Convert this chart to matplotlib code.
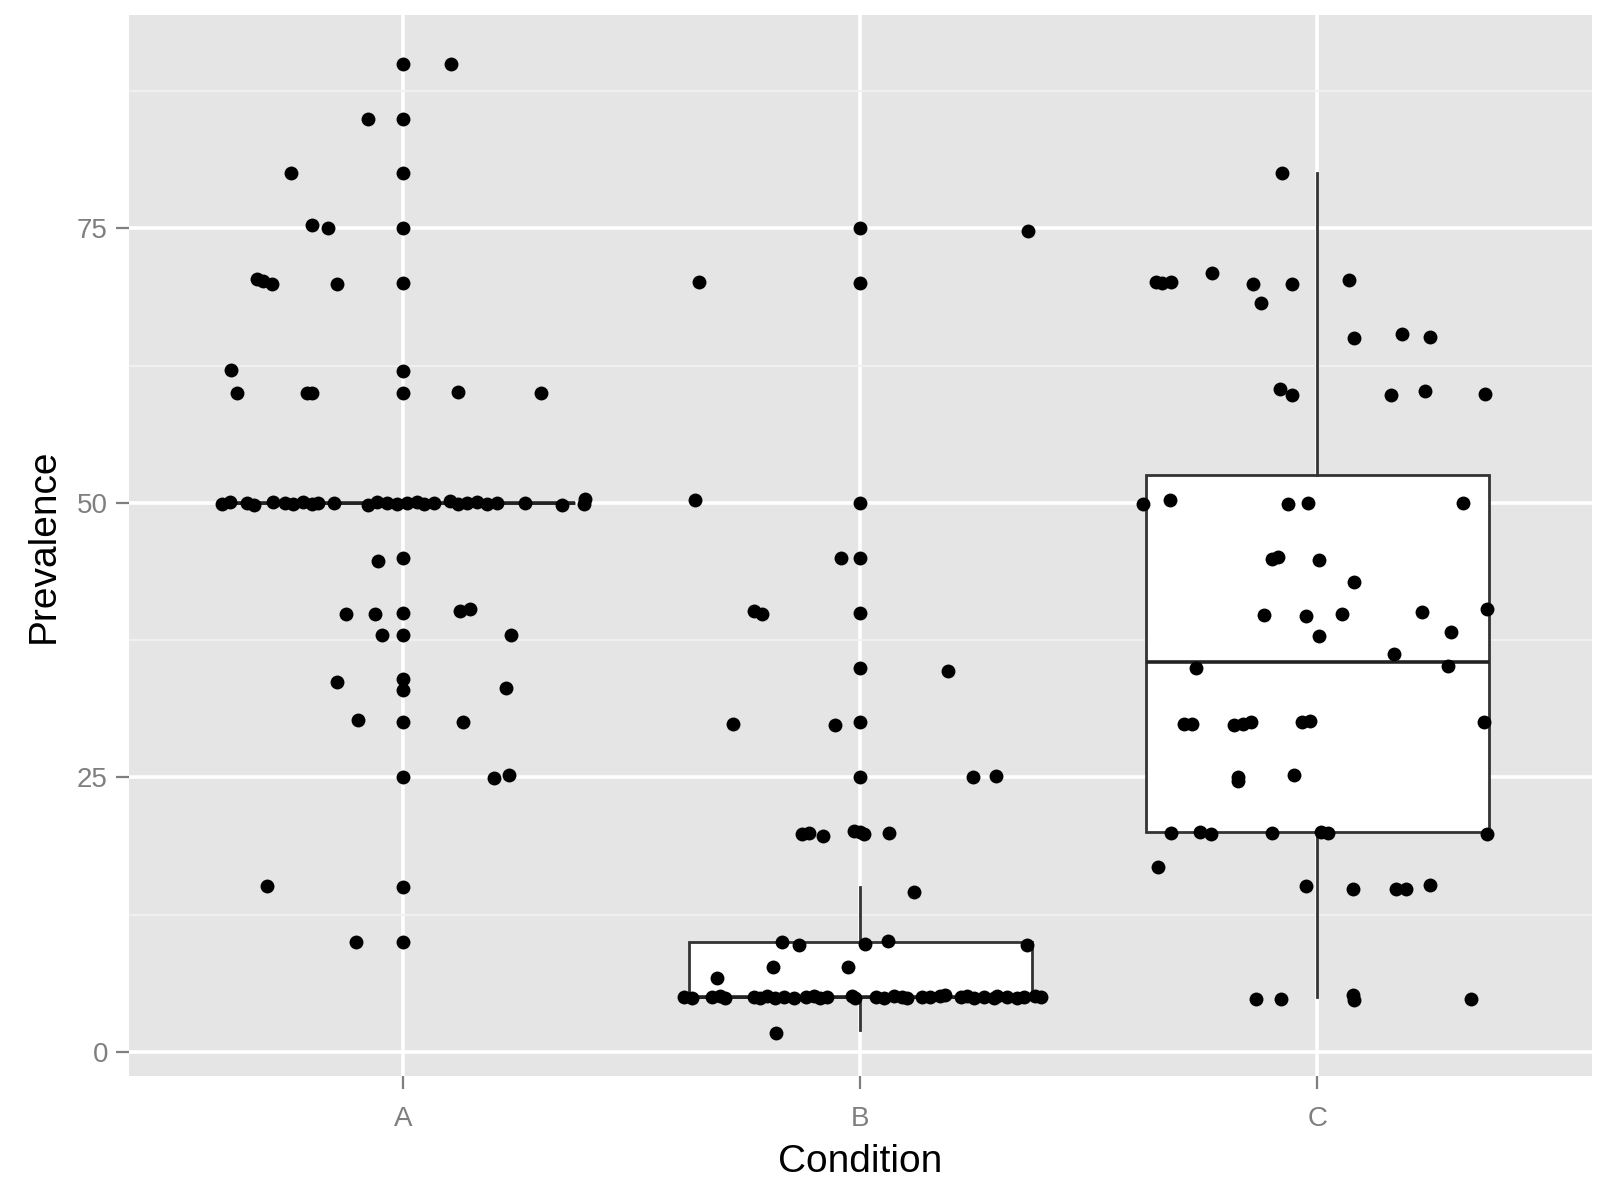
import matplotlib.pyplot as plt
import numpy as np

categories = ["A", "B", "C"]

# box statistics
box_q1 = [50, 5, 20]
box_med = [50, 5, 35.5]
box_q3 = [50, 10, 52.5]
whisker_lo = [50, 2, 5]
whisker_hi = [50, 15, 80]

# outliers drawn by the boxplot at the category centre
outliers_a = [90, 85, 80, 75, 70, 62, 60, 45, 40, 38, 34, 33, 30, 25, 15, 10]
outliers_b = [75, 70, 50, 45, 40, 35, 30, 25, 20]
outliers_c = []

# jittered observations: horizontal offset from the centre, value
a_offset = [0.104, -0.078, -0.246, -0.201, -0.165,
            -0.321, -0.307, -0.288, -0.145, -0.378,
            -0.365, -0.212, -0.201, 0.119, 0.302,
            -0.398, -0.379, -0.343, -0.328, -0.285, -0.259, -0.241, -0.219,
            -0.201, -0.186, -0.153, -0.077, -0.058, -0.036, -0.014, 0.007,
            0.029, 0.044, 0.066, 0.102, 0.120, 0.139, 0.161, 0.183, 0.205,
            0.266, 0.347, 0.394, 0.398,
            -0.055, -0.125, -0.063, 0.124, 0.146, -0.047, 0.236,
            -0.146, 0.225, -0.100, 0.130, 0.197, 0.232, -0.299, -0.104]
a_value = [90.0, 85.0, 80.0, 75.3, 75.0,
           70.4, 70.2, 69.9, 69.9, 62.1,
           60.0, 60.0, 60.0, 60.1, 60.0,
           49.9, 50.1, 50.0, 49.8, 50.1, 50.0, 49.9, 50.1,
           49.9, 50.0, 50.0, 49.8, 50.1, 50.0, 49.9, 50.0,
           50.1, 49.9, 50.0, 50.2, 49.9, 50.0, 50.1, 49.9, 50.0,
           50.0, 49.8, 49.9, 50.4,
           44.7, 39.9, 39.9, 40.2, 40.3, 38.0, 38.0,
           33.7, 33.1, 30.2, 30.0, 24.9, 25.2, 15.1, 10.0]

b_offset = [0.366, -0.354, -0.363, -0.042, -0.234, -0.215, 0.192,
            -0.279, -0.055, 0.247, 0.296,
            -0.128, -0.112, -0.083, -0.015, 0.007, 0.062, 0.117,
            -0.171, -0.135, 0.011, 0.061, 0.365, -0.192, -0.028, -0.314, -0.184,
            -0.387, -0.369, -0.325, -0.307, -0.296, -0.234, -0.219, -0.204,
            -0.186, -0.168, -0.146, -0.120, -0.102, -0.088, -0.073, -0.018,
            -0.011, 0.033, 0.051, 0.073, 0.091, 0.102, 0.135, 0.153, 0.175,
            0.186, 0.219, 0.234, 0.248, 0.270, 0.292, 0.299, 0.321, 0.343,
            0.358, 0.383, 0.394]
b_value = [74.8, 70.1, 50.3, 45.0, 40.2, 39.9, 34.7,
           29.9, 29.8, 25.0, 25.1,
           19.8, 19.9, 19.7, 20.1, 19.8, 19.9, 14.6,
           10.0, 9.7, 9.8, 10.1, 9.7, 7.7, 7.7, 6.7, 1.7,
           5.0, 4.9, 5.0, 5.1, 4.9, 5.0, 4.9, 5.1,
           4.9, 5.0, 4.9, 5.0, 5.1, 4.9, 5.0, 5.1,
           4.9, 5.0, 4.9, 5.1, 5.0, 4.9, 5.0, 5.0, 5.1,
           5.2, 5.0, 5.1, 4.9, 5.0, 4.9, 5.1, 5.0, 4.9,
           5.0, 5.1, 5.0]

c_offset = [-0.078, -0.354, -0.340, -0.320, -0.142, -0.055, 0.069, -0.230, -0.123,
            0.080, 0.186, 0.246, -0.083, -0.056, 0.162, 0.235, 0.367,
            -0.381, -0.323, -0.064, -0.020, 0.319, -0.100, -0.086, 0.004, 0.080,
            -0.117, -0.026, 0.053, 0.228, 0.372, 0.004, 0.292, 0.168,
            -0.265, 0.286,
            -0.292, -0.274, -0.183, -0.164, -0.146, -0.034, -0.016, 0.365,
            -0.174, -0.174, -0.051,
            -0.320, -0.256, -0.234, -0.099, 0.007, 0.022, 0.370,
            -0.348, -0.026, 0.077, 0.171, 0.193, 0.246,
            -0.135, -0.080, 0.077, 0.080, 0.336]
c_value = [80.0, 70.1, 70.0, 70.1, 69.9, 69.9, 70.3, 70.9, 68.2,
           65.0, 65.4, 65.1, 60.4, 59.8, 59.8, 60.2, 59.9,
           49.9, 50.3, 49.9, 50.0, 50.0, 44.9, 45.1, 44.8, 42.8,
           39.8, 39.7, 39.9, 40.1, 40.3, 37.9, 38.2, 36.2,
           35.0, 35.1,
           29.9, 29.9, 29.8, 29.9, 30.0, 30.0, 30.1, 30.0,
           25.0, 24.7, 25.2,
           19.9, 20.0, 19.8, 19.9, 20.0, 19.9, 19.8,
           16.8, 15.1, 14.8, 14.8, 14.8, 15.2,
           4.8, 4.8, 5.2, 4.7, 4.8]

y_ticks = [0, 25, 50, 75]
y_minor = [12.5, 37.5, 62.5, 87.5]

fig = plt.figure(figsize=(16.1, 11.83), dpi=100)
fig.subplots_adjust(left=0.0803, right=0.9886, bottom=0.0904, top=0.987)
ax = fig.add_subplot(111)
ax.set_facecolor("#E5E5E5")
for s in ax.spines.values():
    s.set_visible(False)

positions = np.arange(1, len(categories) + 1)
stats = []
for i in range(len(categories)):
    stats.append(dict(med=box_med[i], q1=box_q1[i], q3=box_q3[i],
                      whislo=whisker_lo[i], whishi=whisker_hi[i], fliers=[]))
parts = ax.bxp(stats, positions=positions, widths=0.75, patch_artist=True,
               showcaps=False, showfliers=False,
               boxprops=dict(facecolor="white", edgecolor="#333333", linewidth=2.0),
               whiskerprops=dict(color="#333333", linewidth=2.0),
               medianprops=dict(color="#222222", linewidth=2.6))
for key in ("boxes", "whiskers", "medians"):
    for artist in parts[key]:
        artist.set_zorder(2)

point_kw = dict(s=100, color="black", linewidths=0, zorder=3)
for pos, outl in zip(positions, [outliers_a, outliers_b, outliers_c]):
    if outl:
        ax.scatter(np.full(len(outl), pos), outl, **point_kw)
for pos, off, val in zip(positions, [a_offset, b_offset, c_offset],
                         [a_value, b_value, c_value]):
    ax.scatter(pos + np.array(off), val, **point_kw)

ax.set_xlim(0.4, 3.6)
ax.set_ylim(-2.2, 94.4)
ax.set_xticks(positions)
ax.set_xticklabels(categories)
ax.set_yticks(y_ticks)
ax.set_yticks(y_minor, minor=True)

ax.set_axisbelow(True)
ax.grid(which="major", color="white", linewidth=2.6)
ax.grid(which="minor", axis="y", color="#F2F2F2", linewidth=1.3)

ax.tick_params(which="major", length=9.4, width=1.6, color="#7F7F7F",
               labelcolor="#7F7F7F", labelsize=20)
ax.tick_params(axis="x", which="major", pad=12.5)
ax.tick_params(axis="y", which="major", pad=6)
ax.tick_params(which="minor", length=0)
for lab in ax.get_xticklabels() + ax.get_yticklabels():
    lab.set_family("Liberation Sans")

ax.set_xlabel("Condition", fontsize=28, family="Liberation Sans", labelpad=8)
ax.set_ylabel("Prevalence", fontsize=28, family="Liberation Sans", labelpad=11)

fig.savefig("out.png", dpi=100)
